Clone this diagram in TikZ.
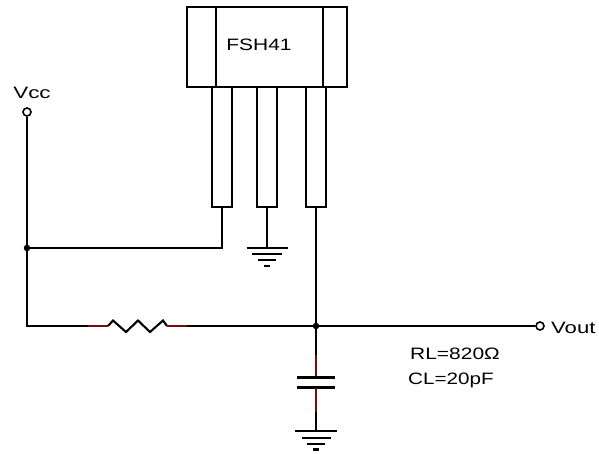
\documentclass[tikz,border=0pt]{standalone}
\usepackage{fontspec}
\setmainfont{Liberation Sans}
\definecolor{wirered}{RGB}{120,10,10}
\begin{document}
\begin{tikzpicture}[x=1pt,y=-1pt,
  wire/.style={line width=2.1pt},
  redwire/.style={line width=2.1pt,draw=wirered},
  pinbox/.style={draw,line width=2.1pt,minimum width=20pt,minimum height=120pt,inner sep=0pt},
  term/.style={circle,draw,line width=1.6pt,fill=white,minimum size=8pt,inner sep=0pt},
  dot/.style={circle,fill,minimum size=6.5pt,inner sep=0pt},
  lbl/.style={inner sep=0pt,font=\fontsize{16.5}{19}\selectfont},
]
\useasboundingbox (0,0) rectangle (599,453);
% chip
\node[draw,line width=2.1pt,minimum width=160pt,minimum height=80pt,inner sep=0pt] (chip) at (267,47) {};
\draw[wire] (216,7) -- (216,87);
\draw[wire] (323,7) -- (323,87);
\node[lbl] (name) at (259,45) {\scalebox{1.27}[1]{FSH41}};
\node[pinbox] (p1) at (222,147) {};
\node[pinbox] (p2) at (267,147) {};
\node[pinbox] (p3) at (316,147) {};
% terminals
\node[term] (vcc) at (27,112) {};
\node[lbl] (vcclbl) at (32,93) {\scalebox{1.36}[1]{Vcc}};
\node[dot] (j1) at (27,248) {};
\node[dot] (j2) at (316,326) {};
\node[term] (vout) at (540,326) {};
\node[lbl,anchor=west] (voutlbl) at (551,328) {\scalebox{1.34}[1]{Vout}};
\node[lbl,anchor=west] (rl) at (410,354) {\scalebox{1.27}[1]{RL=820Ω}};
\node[lbl,anchor=west] (cl) at (408,380) {\scalebox{1.25}[1]{CL=20pF}};
% wires
\draw[wire] (vcc.south) -- (j1.center) -- (27,326) -- (88,326);
\draw[wire] (p1.south) -- (222,248) -- (j1.center);
% resistor
\draw[redwire] (88,326) -- (108,326);
\draw[wire,line join=miter] (108,326) -- (113,320.5) -- (126,332) -- (138,320.5) -- (150,332) -- (163,320.5) -- (167,326);
\draw[redwire] (167,326) -- (187,326);
\draw[wire] (187,326) -- (j2.center) -- (vout.west);
\draw[wire] (p3.south) -- (j2.center);
% ground pin2
\draw[wire] (p2.south) -- (267,248);
\draw[wire] (246.5,248) -- (287.5,248);
\draw[wire] (252,254) -- (282,254);
\draw[wire] (258,260) -- (276,260);
\draw[wire] (264,266) -- (270,266);
% capacitor
\draw[wire] (j2.center) -- (316,355);
\draw[redwire] (316,355) -- (316,377.5);
\draw[wire] (297,377.5) -- (335,377.5);
\draw[wire] (297,387.5) -- (335,387.5);
\draw[redwire] (316,387.5) -- (316,412);
\draw[wire] (316,412) -- (316,431);
\draw[wire] (295,431) -- (337,431);
\draw[wire] (301.5,438) -- (330.5,438);
\draw[wire] (307,444) -- (325,444);
\draw[wire] (313,449.5) -- (319,449.5);
\end{tikzpicture}
\end{document}
